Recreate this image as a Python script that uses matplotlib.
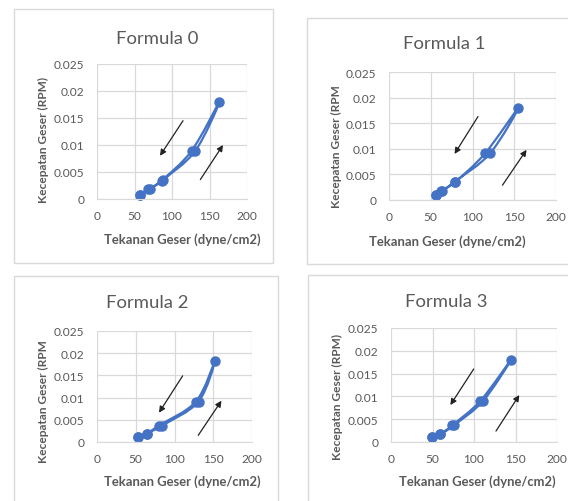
import matplotlib
matplotlib.use("Agg")
import matplotlib.pyplot as plt
from matplotlib.patches import Rectangle, PathPatch
from matplotlib.path import Path
from matplotlib.ticker import FuncFormatter

plt.rcParams['font.family'] = ['Lato', 'DejaVu Sans']

# ---------------- data ----------------
titles = ["Formula 0", "Formula 1", "Formula 2", "Formula 3"]
ylabels = ["Kecepatan Geser (RPM)", "Kecepatan Geser (RPM", "Kecepatan Geser (RPM", "Kecepatan Geser (RPM)"]
xlabel = "Tekanan Geser (dyne/cm2)"

# shear stress (up then down)
f0_x = [57.8, 70.0, 87.5, 131.0, 163.0, 126.0, 86.0, 68.0, 57.8]
f0_y = [0.0008, 0.0018, 0.0035, 0.0089, 0.0179, 0.0089, 0.0034, 0.0018, 0.0008]
f1_x = [56.5, 64.0, 79.0, 121.0, 155.0, 115.0, 79.0, 62.0, 56.5]
f1_y = [0.0010, 0.0018, 0.0036, 0.0091, 0.0180, 0.0091, 0.0035, 0.0018, 0.0010]
f2_x = [52.7, 64.0, 84.0, 131.0, 152.0, 127.6, 80.0, 64.0, 52.7]
f2_y = [0.0011, 0.0019, 0.0037, 0.0091, 0.0182, 0.0091, 0.0037, 0.0019, 0.0011]
f3_x = [49.4, 59.4, 76.0, 111.0, 144.6, 107.6, 74.0, 59.4, 49.4]
f3_y = [0.0010, 0.0017, 0.0037, 0.0090, 0.0180, 0.0090, 0.0037, 0.0017, 0.0010]
series_x = [f0_x, f1_x, f2_x, f3_x]
series_y = [f0_y, f1_y, f2_y, f3_y]

x_ticks = [0, 50, 100, 150, 200]
y_ticks = [0, 0.005, 0.01, 0.015, 0.02, 0.025]

# arrow annotations (tail -> head) in data coordinates
arrows = [
    [((114.7, 0.0145), (84.0, 0.0080)), ((137.8, 0.0036), (168.0, 0.0100))],
    [((106.6, 0.0163), (78.5, 0.0090)), ((135.9, 0.0029), (164.7, 0.0098))],
    [((110.5, 0.0149), (80.0, 0.0066)), ((130.6, 0.0015), (160.6, 0.0093))],
    [((99.6, 0.0160), (71.5, 0.0081)), ((126.5, 0.0024), (154.6, 0.0103))],
]

# ---------------- layout (pixels) ----------------
W, H = 568, 502
fig = plt.figure(figsize=(W / 100, H / 100), dpi=100)
fig.patch.set_facecolor("white")

def fx(px):
    return px / W

def fy(py):
    return 1 - py / H

boxes = [(14, 10, 273, 264), (307, 19, 580, 265), (14, 277, 278, 520), (308, 276, 580, 520)]
plots = [(97, 65, 247, 200), (389, 73, 556, 201), (97, 332, 252, 443), (391, 329, 557, 443)]
title_pos = [(157, 39), (444, 44), (147, 303), (446, 302)]
ylab_pos = [(43, 140), (336, 147), (43, 402), (337, 397)]
xlab_pos = [(182, 240), (447, 242), (182, 482), (477, 482)]

grey = "#595959"
grid = "#d9d9d9"
blue = "#4472C4"

def yfmt(v, _):
    if v == 0:
        return "0"
    return ("%.3f" % v).rstrip("0")


def smooth_path(ax, xs, ys):
    """Excel-style smoothed line: Catmull-Rom rendered as cubic Bezier segments
    in display space so the curve shape is independent of axis units."""
    pts = ax.transData.transform(list(zip(xs, ys)))
    n = len(pts)
    verts = [tuple(pts[0])]
    codes = [Path.MOVETO]
    for k in range(n - 1):
        p0 = pts[k - 1] if k > 0 else pts[k]
        p1 = pts[k]
        p2 = pts[k + 1]
        p3 = pts[k + 2] if k + 2 < n else pts[k + 1]
        c1 = p1 + (p2 - p0) / 6.0
        c2 = p2 - (p3 - p1) / 6.0
        verts += [tuple(c1), tuple(c2), tuple(p2)]
        codes += [Path.CURVE4] * 3
    return Path(verts, codes)


axes = []
for i in range(4):
    bx0, by0, bx1, by1 = boxes[i]
    fig.patches.append(Rectangle((fx(bx0), fy(by1)), fx(bx1 - bx0), (by1 - by0) / H,
                                 transform=fig.transFigure, fill=False,
                                 edgecolor=grid, linewidth=1.0))
    px0, py0, px1, py1 = plots[i]
    ax = fig.add_axes([fx(px0), fy(py1), fx(px1 - px0), (py1 - py0) / H])
    ax.set_xlim(0, 200)
    ax.set_ylim(0, 0.025)
    ax.set_xticks(x_ticks)
    ax.set_yticks(y_ticks)
    ax.yaxis.set_major_formatter(FuncFormatter(yfmt))
    ax.grid(True, color=grid, linewidth=0.9)
    ax.set_axisbelow(True)
    for s in ["top", "right", "left"]:
        ax.spines[s].set_visible(False)
    ax.spines["bottom"].set_color(grid)
    ax.tick_params(length=0, labelsize=8.6, colors=grey)
    ax.tick_params(axis="y", pad=9)
    ax.tick_params(axis="x", pad=8)
    axes.append(ax)

    tx, ty = title_pos[i]
    fig.text(fx(tx), fy(ty), titles[i], ha="center", va="center", fontsize=13.3, color=grey)
    yx, yy = ylab_pos[i]
    fig.text(fx(yx), fy(yy), ylabels[i], ha="center", va="center", rotation=90,
             fontsize=8.6, fontweight="bold", color=grey)
    lx, ly = xlab_pos[i]
    fig.text(fx(lx), fy(ly), xlabel, ha="center", va="center",
             fontsize=9.4, fontweight="bold", color=grey)

for i, ax in enumerate(axes):
    path = smooth_path(ax, series_x[i], series_y[i])
    ax.add_patch(PathPatch(path, transform=None, facecolor="none",
                           edgecolor=blue, linewidth=1.6, clip_on=False))
    ax.plot(series_x[i], series_y[i], linestyle="none", marker="o",
            markersize=6.5, markerfacecolor=blue, markeredgecolor=blue, clip_on=False)
    for (tail, head) in arrows[i]:
        ax.annotate("", xy=head, xytext=tail,
                    arrowprops=dict(arrowstyle="-|>", color="#222222", lw=0.9,
                                    mutation_scale=9, shrinkA=0, shrinkB=0))

fig.savefig("out.png", dpi=100)
